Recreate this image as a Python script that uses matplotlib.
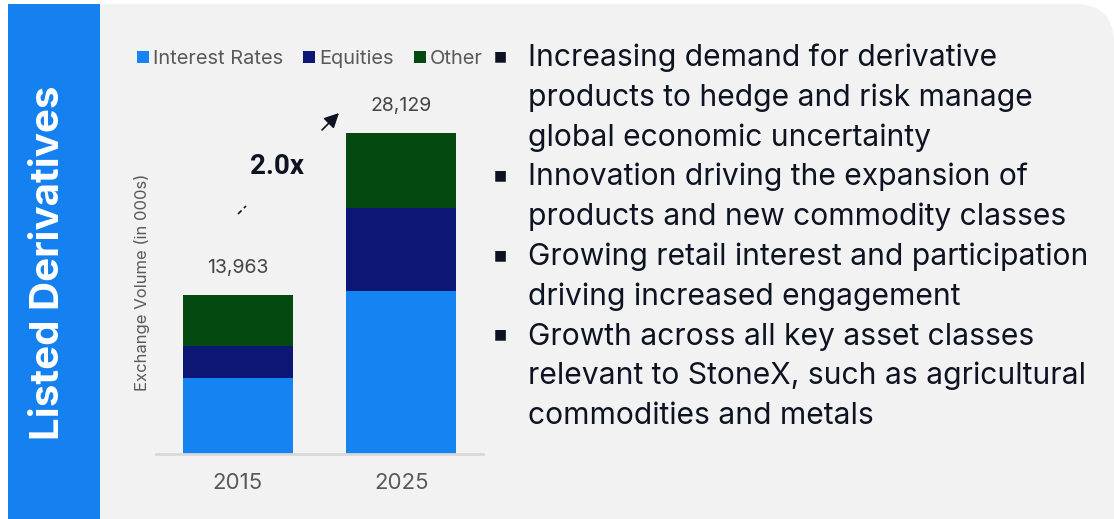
import matplotlib.pyplot as plt
from matplotlib.patches import Rectangle, FancyBboxPatch, FancyArrowPatch
from matplotlib.lines import Line2D

# data
years = ["2015", "2025"]
interest_rates = [6650, 14240]
equities = [2800, 7340]
other = [4513, 6549]
totals = ["13,963", "28,129"]
series_names = ["Interest Rates", "Equities", "Other"]
colors = ["#1584F2", "#0C1674", "#044A10"]

title = "Listed Derivatives"
ylabel = "Exchange Volume (in 000s)"
growth = "2.0x"
bullets = [
    ["Increasing demand for derivative",
     "products to hedge and risk manage",
     "global economic uncertainty"],
    ["Innovation driving the expansion of",
     "products and new commodity classes"],
    ["Growing retail interest and participation",
     "driving increased engagement"],
    ["Growth across all key asset classes",
     "relevant to StoneX, such as agricultural",
     "commodities and metals"],
]

W, H = 1114, 519
plt.rcParams['font.family'] = ['Inter', 'DejaVu Sans']
fig = plt.figure(figsize=(W / 100, H / 100), dpi=100, facecolor="white")


def fx(x):
    return x / W


def fy(y):
    return 1 - y / H


# background panels
panel = FancyBboxPatch((fx(100), fy(560)), fx(1114) - fx(100), fy(4) - fy(560),
                       boxstyle="round,pad=0,rounding_size=0.035",
                       transform=fig.transFigure, facecolor="#F2F2F2",
                       edgecolor="none", mutation_aspect=W / H, zorder=-3)
fig.patches.append(panel)
fig.patches.append(Rectangle((fx(100), 0), fx(200) - fx(100), fy(4),
                             transform=fig.transFigure, facecolor="#F2F2F2",
                             edgecolor="none", zorder=-3))
fig.patches.append(Rectangle((fx(8), 0), fx(100) - fx(8), fy(4),
                             transform=fig.transFigure, facecolor="#1580F0",
                             edgecolor="none", zorder=-3))
fig.text(fx(49), fy(263), title, rotation=90, ha="center", va="center",
         color="white", fontsize=29, fontweight="bold")

# chart
ax = fig.add_axes([fx(156), fy(454), fx(483) - fx(156), fy(100) - fy(454)])
ax.set_facecolor("none")
x = range(len(years))
bottom2 = [a + b for a, b in zip(interest_rates, equities)]
ax.bar(x, interest_rates, width=0.67, color=colors[0], label=series_names[0])
ax.bar(x, equities, width=0.67, bottom=interest_rates, color=colors[1],
       label=series_names[1])
ax.bar(x, other, width=0.67, bottom=bottom2, color=colors[2],
       label=series_names[2])
for i, t in enumerate(totals):
    top = bottom2[i] + other[i]
    ax.annotate(t, (i, top), xytext=(0, 19), textcoords="offset points",
                ha="center", va="center", fontsize=14, color="#454545")
ax.set_xlim(-0.5, 1.5)
ax.set_ylim(0, 31000)
ax.set_xticks(list(x))
ax.set_xticklabels(years, fontsize=16, color="#595959")
ax.tick_params(axis="x", length=0, pad=14)
ax.set_yticks([])
for s in ["top", "right", "left"]:
    ax.spines[s].set_visible(False)
ax.spines["bottom"].set_color("#D9D9D9")
ax.spines["bottom"].set_linewidth(2)

leg = fig.legend(loc="center left", bbox_to_anchor=(fx(137), fy(59)),
                 ncol=3, frameon=False, fontsize=14.4, handlelength=0.6,
                 handleheight=0.6, handletextpad=0.2, columnspacing=1.0,
                 borderpad=0, borderaxespad=0)
for t in leg.get_texts():
    t.set_color("#595959")

fig.text(fx(142), fy(282), ylabel, rotation=90, ha="center", va="center",
         fontsize=12, color="#595959")

# growth annotation
fig.text(fx(277), fy(166), growth, ha="center", va="center", fontsize=20,
         fontweight="bold", color="#0D1321", family="Roboto")
fig.add_artist(Line2D([fx(238), fx(246)], [fy(214), fy(206)],
                      transform=fig.transFigure, color="#0D1321", lw=1.2,
                      linestyle=(0, (3, 2)), zorder=5))
fig.add_artist(FancyArrowPatch(
    (fx(322), fy(130)), (fx(339), fy(113)), transform=fig.transFigure,
    arrowstyle="-|>", mutation_scale=22, color="#0D1321", lw=1.2,
    shrinkA=0, shrinkB=0, zorder=5))

# bullet list
line = 0
for item in bullets:
    base = 66 + 39.8 * line
    fig.text(fx(500), fy(base - 10), "\u25a0", family="DejaVu Sans",
             ha="center", va="center", fontsize=10, color="#0D1321")
    for txt in item:
        base = 66 + 39.8 * line
        fig.text(fx(528), fy(base), txt, ha="left", va="baseline",
                 fontsize=21.6, color="#0D1321")
        line += 1

fig.savefig("out.png", dpi=100, facecolor="white")
